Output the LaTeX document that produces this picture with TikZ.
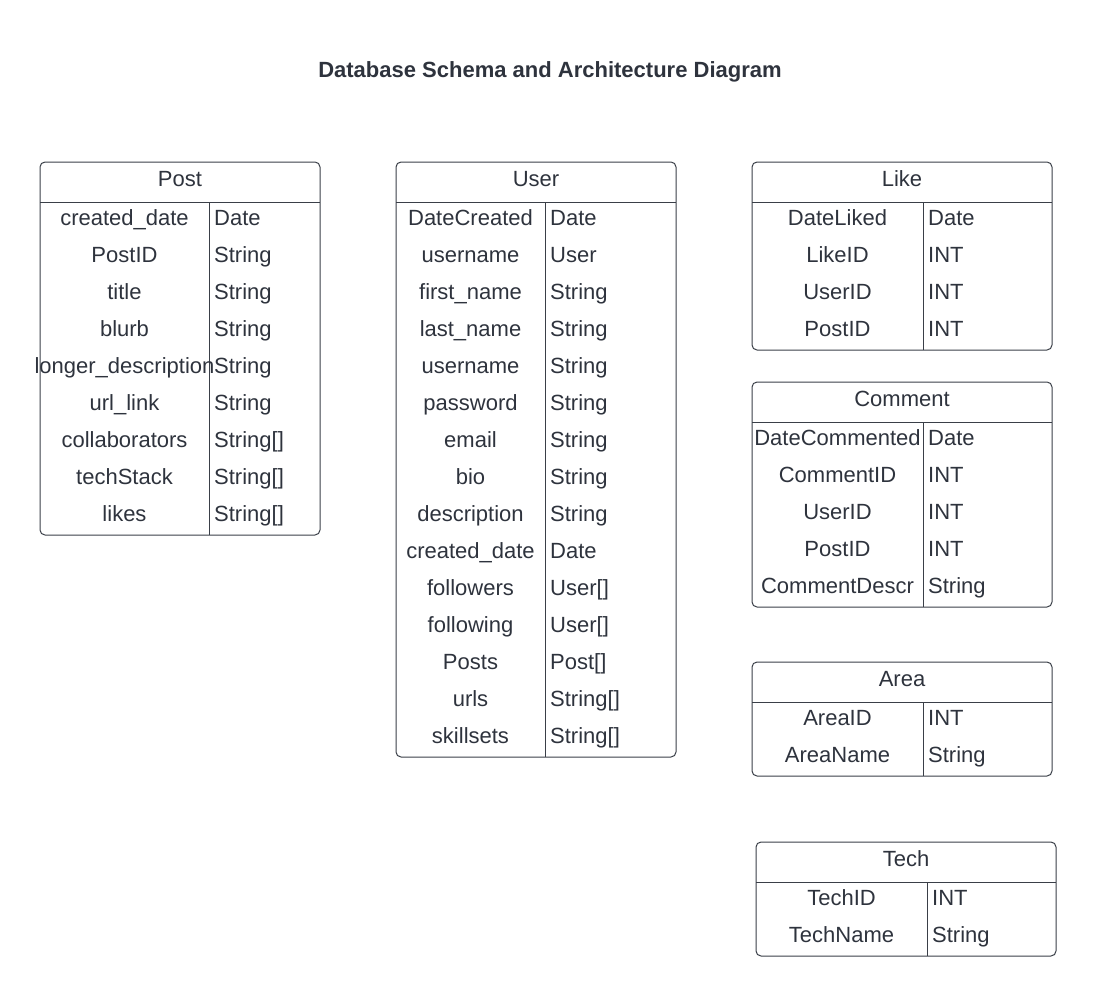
\documentclass[tikz,border=0pt]{standalone}
\usepackage{fontspec}
\setmainfont{Liberation Sans}
\definecolor{ink}{HTML}{2E333D}
\definecolor{edge}{HTML}{3A3F48}
\tikzset{
  cell/.style={text=ink, font=\fontsize{22}{26}\selectfont, inner sep=0pt},
  keycell/.style={cell, anchor=base},
  valcell/.style={cell, anchor=base west},
  tabframe/.style={draw=edge, line width=1pt, rounded corners=5pt},
  tabline/.style={draw=edge, line width=1pt},
}
% \dbtable{name}{x0}{y0}{x1}{xdiv}{nrows}{title}{rows}
\newcommand{\dbtable}[8]{%
  \pgfmathsetmacro{\ybot}{#3+40+37*#6}
  \draw[tabframe] (#2,#3) rectangle (#4,\ybot);
  \draw[tabline] (#2,#3+40) -- (#4,#3+40);
  \draw[tabline] (#5,#3+40) -- (#5,\ybot);
  \node[keycell] (#1-title) at ({(#2+#4)/2},#3+24) {#7};
  \foreach \k/\v [count=\i] in {#8} {
    \node[keycell] (#1-k\i) at ({(#2+#5)/2},{#3+40+37*(\i-1)+23}) {\k};
    \node[valcell] (#1-v\i) at ({#5+5},{#3+40+37*(\i-1)+23}) {\v};
  }
}
\begin{document}
\begin{tikzpicture}[x=1pt,y=-1pt]
\useasboundingbox (0,0) rectangle (1096,996);
\node[text=ink, font=\bfseries\fontsize{22}{26}\selectfont, inner sep=0pt, anchor=base] (title) at (550,77) {Database Schema and Architecture Diagram};

\dbtable{post}{40}{162}{320}{209}{9}{Post}{created\_date/Date, PostID/String, title/String, blurb/String, longer\_description/String, url\_link/String, collaborators/{String[]}, techStack/{String[]}, likes/{String[]}}

\dbtable{user}{396}{162}{676}{545}{15}{User}{DateCreated/Date, username/User, first\_name/String, last\_name/String, username/String, password/String, email/String, bio/String, description/String, created\_date/Date, followers/{User[]}, following/{User[]}, Posts/{Post[]}, urls/{String[]}, skillsets/{String[]}}

\dbtable{like}{752}{162}{1052}{923}{4}{Like}{DateLiked/Date, LikeID/INT, UserID/INT, PostID/INT}

\dbtable{comment}{752}{382}{1052}{923}{5}{Comment}{DateCommented/Date, CommentID/INT, UserID/INT, PostID/INT, CommentDescr/String}

\dbtable{area}{752}{662}{1052}{923}{2}{Area}{AreaID/INT, AreaName/String}

\dbtable{tech}{756}{842}{1056}{927}{2}{Tech}{TechID/INT, TechName/String}
\end{tikzpicture}
\end{document}
